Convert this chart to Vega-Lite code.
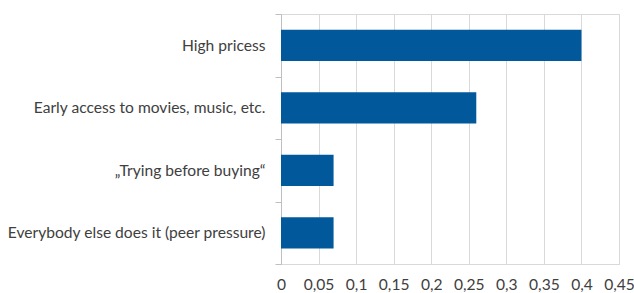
{
  "$schema": "https://vega.github.io/schema/vega-lite/v6.json",
  "autosize": "none",
  "width": 338,
  "height": 250,
  "padding": {"left": 281, "top": 14, "right": 15, "bottom": 29},
  "background": "white",
  "config": {"view": {"stroke": "#D9D9D9"}, "font": "Lato"},
  "data": {"values": [
    {"reason": "High pricess", "share": 0.40},
    {"reason": "Early access to movies, music, etc.", "share": 0.26},
    {"reason": "„Trying before buying“", "share": 0.07},
    {"reason": "Everybody else does it (peer pressure)", "share": 0.07}
  ]},
  "mark": {"type": "bar", "color": "#01599C", "height": {"band": 0.5}},
  "encoding": {
    "y": {
      "field": "reason", "type": "nominal", "sort": null,
      "scale": {"paddingInner": 0, "paddingOuter": 0},
      "axis": {
        "title": null, "tickBand": "extent", "ticks": true, "tickSize": 6, "tickColor": "#BFBFBF",
        "domainColor": "#BFBFBF", "labelPadding": 10, "labelFontSize": 15.6,
        "labelColor": "#404040", "labelLimit": 400
      }
    },
    "x": {
      "field": "share", "type": "quantitative",
      "scale": {"domain": [0, 0.45], "nice": false},
      "axis": {
        "title": null, "values": [0, 0.05, 0.1, 0.15, 0.2, 0.25, 0.3, 0.35, 0.4, 0.45],
        "labelExpr": "replace(format(datum.value, '.2~f'), '.', ',')",
        "ticks": false, "domain": false, "grid": true, "gridColor": "#D9D9D9",
        "labelPadding": 13, "labelFontSize": 15.6, "labelColor": "#404040",
        "labelFlush": false, "labelOverlap": false
      }
    }
  }
}
